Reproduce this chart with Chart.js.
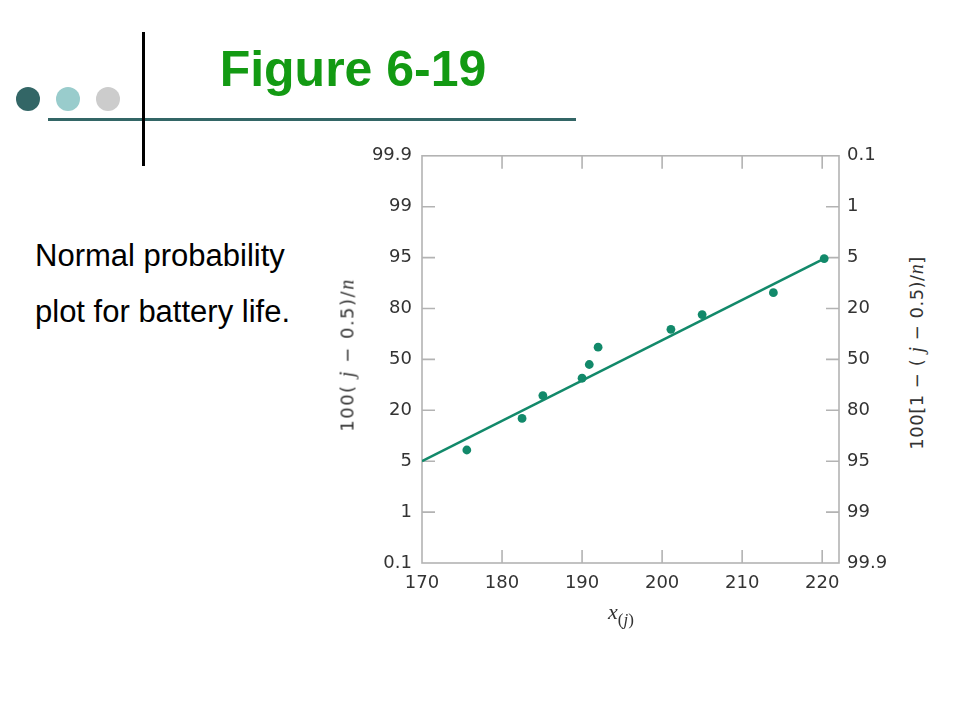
<!DOCTYPE html>
<html><head><meta charset="utf-8">
<script src="https://cdn.jsdelivr.net/npm/chart.js@4.4.1/dist/chart.umd.min.js"></script>
<style>
html,body{margin:0;padding:0;background:#fff;}
#slide{position:relative;width:960px;height:720px;overflow:hidden;background:#fff;font-family:"Liberation Sans",Arial,sans-serif;}
.abs{position:absolute;}
.dot{width:24px;height:24px;border-radius:50%;}
#title{left:160px;width:386px;text-align:center;top:44px;font-size:50px;line-height:50px;font-weight:bold;color:#139a13;white-space:nowrap;}
.side{left:35px;font-size:31px;line-height:31px;color:#000;white-space:nowrap;}
.axt{font-family:"DejaVu Sans",sans-serif;font-size:18px;color:#333;white-space:nowrap;transform:translate(-50%,-50%) rotate(-90deg);}
.it{font-family:"Liberation Serif","DejaVu Serif",serif;font-style:italic;font-size:20px;}
#c{position:absolute;left:330px;top:135px;width:570px;height:465px;}
</style></head><body>
<div id="slide">
  <div class="abs dot" style="left:16px;top:87px;background:#336666"></div>
  <div class="abs dot" style="left:56px;top:87px;background:#99cccc"></div>
  <div class="abs dot" style="left:96px;top:87px;background:#cccccc"></div>
  <div class="abs" style="left:48px;top:118px;width:528px;height:3px;background:#336666"></div>
  <div class="abs" style="left:142px;top:32px;width:3px;height:134px;background:#000"></div>
  <div id="title" class="abs">Figure 6-19</div>
  <div class="abs side" style="top:240px">Normal probability</div>
  <div class="abs side" style="top:296px">plot for battery life.</div>
  <canvas id="c" width="570" height="465"></canvas>
  <div class="abs axt" style="left:347px;top:355px;letter-spacing:1.5px">100( <span class="it">j</span> − 0.5)/<span class="it">n</span></div>
  <div class="abs axt" style="left:916px;top:353px;letter-spacing:0.5px">100[1 − ( <span class="it">j</span> − 0.5)/<span class="it">n</span>]</div>
  <div class="abs" style="left:621px;top:612px;transform:translate(-50%,-50%);white-space:nowrap;color:#333"><span class="it" style="font-size:22px">x</span><span style="font-size:17px;position:relative;top:6px;font-family:'Liberation Serif',serif">(<i>j</i>)</span></div>
</div>
<script>
const xTickValues = [170, 180, 190, 200, 210, 220];
const leftTickLabels = ['0.1', '1', '5', '20', '50', '80', '95', '99', '99.9'];
const rightTickLabels = ['99.9', '99', '95', '80', '50', '20', '5', '1', '0.1'];
const batteryLife = [175.6, 182.5, 185.1, 190.0, 190.9, 192.0, 201.1, 205.0, 213.9, 220.25];
const plotPosition = [2.22, 2.84, 3.29, 3.63, 3.90, 4.24, 4.59, 4.88, 5.31, 5.98];
const fitLineX = [170, 220.25];
const fitLineY = [2.0, 5.98];

const teal = '#12896a';
const tickFont = {family: 'DejaVu Sans', size: 18};
const tickColor = '#333333';

const framePlugin = {
  id: 'frame',
  beforeDatasetsDraw(chart) {
    const {ctx, chartArea: a, scales: {x, y}} = chart;
    ctx.save();
    ctx.strokeStyle = '#b3b3b3';
    ctx.lineWidth = 1.6;
    ctx.strokeRect(a.left, a.top, a.right - a.left, a.bottom - a.top);
    ctx.beginPath();
    xTickValues.slice(1).forEach(v => {
      const px = x.getPixelForValue(v);
      ctx.moveTo(px, a.bottom); ctx.lineTo(px, a.bottom - 13);
      ctx.moveTo(px, a.top); ctx.lineTo(px, a.top + 13);
    });
    for (let i = 1; i < leftTickLabels.length - 1; i++) {
      const py = y.getPixelForValue(i);
      ctx.moveTo(a.left, py); ctx.lineTo(a.left + 13, py);
      ctx.moveTo(a.right, py); ctx.lineTo(a.right - 13, py);
    }
    ctx.stroke();
    ctx.restore();
  }
};

const yTicks = leftTickLabels.map((_, i) => ({value: i}));

new Chart(document.getElementById('c'), {
  type: 'scatter',
  data: {
    datasets: [
      {
        type: 'line',
        data: fitLineX.map((v, i) => ({x: v, y: fitLineY[i]})),
        borderColor: teal,
        borderWidth: 2.6,
        pointRadius: 0,
        fill: false,
        yAxisID: 'y'
      },
      {
        data: batteryLife.map((v, i) => ({x: v, y: plotPosition[i]})),
        backgroundColor: teal,
        borderWidth: 0,
        pointRadius: 4.4,
        yAxisID: 'y'
      }
    ]
  },
  options: {
    responsive: false,
    animation: false,
    devicePixelRatio: 1,
    layout: {padding: {top: 10, left: 0, right: 0, bottom: 0}},
    plugins: {legend: {display: false}, tooltip: {enabled: false}},
    scales: {
      x: {
        type: 'linear', position: 'bottom', min: 170, max: 222.1,
        grid: {display: false, drawTicks: false}, border: {display: false},
        afterBuildTicks: s => { s.ticks = xTickValues.map(v => ({value: v})); },
        afterFit: s => { s.height = 37; },
        ticks: {font: tickFont, color: tickColor, padding: 10, maxRotation: 0, autoSkip: false}
      },
      y: {
        type: 'linear', position: 'left', min: 0, max: 8,
        grid: {display: false, drawTicks: false}, border: {display: false},
        afterBuildTicks: s => { s.ticks = yTicks.map(t => ({value: t.value})); },
        afterFit: s => { s.width = 92; },
        ticks: {font: tickFont, color: tickColor, padding: 10, autoSkip: false,
          callback: v => leftTickLabels[v]}
      },
      y2: {
        type: 'linear', position: 'right', min: 0, max: 8,
        grid: {display: false, drawTicks: false}, border: {display: false},
        afterBuildTicks: s => { s.ticks = yTicks.map(t => ({value: t.value})); },
        afterFit: s => { s.width = 61; },
        ticks: {font: tickFont, color: tickColor, padding: 8, autoSkip: false,
          callback: v => rightTickLabels[v]}
      }
    }
  },
  plugins: [framePlugin]
});
</script>
</body></html>
